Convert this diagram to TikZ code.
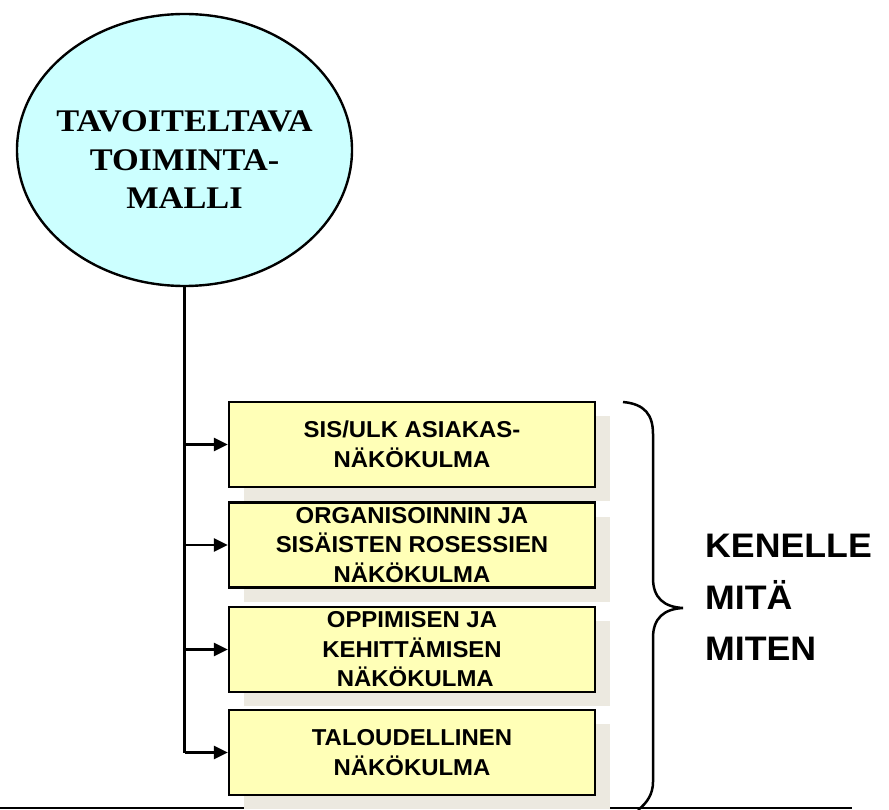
\documentclass[tikz,border=0pt]{standalone}
\usepackage{fontspec}
\setmainfont{Liberation Serif}
\newfontfamily\serifst[FakeStretch=1.09]{Liberation Serif}
\newfontfamily\sansst[FakeStretch=1.04]{Liberation Sans}
\newfontfamily\sanswide[FakeStretch=1.05]{Liberation Sans}
\usetikzlibrary{arrows.meta,shapes.geometric}
\definecolor{cyanfill}{HTML}{CCFFFF}
\definecolor{boxfill}{HTML}{FFFFB7}
\definecolor{shadowc}{HTML}{ECE9E0}
\tikzset{
  goal/.style={ellipse, draw=black, line width=2.4pt, fill=cyanfill, minimum width=335pt, minimum height=272pt, inner sep=0pt},
  goaltext/.style={align=center, font=\serifst\bfseries\fontsize{31.5}{38.5}\selectfont},
  viewbox/.style={rectangle, draw=black, line width=2.2pt, fill=boxfill, minimum width=366pt, minimum height=85pt, inner sep=0pt, align=center, font=\sansst\bfseries\fontsize{23}{29.5}\selectfont},
  shadowbox/.style={rectangle, fill=shadowc, minimum width=366pt, minimum height=85pt, inner sep=0pt},
  conn/.style={line width=2.5pt, draw=black},
  arr/.style={conn, -{Triangle[length=14pt,width=13pt]}},
  sidetext/.style={anchor=base west, inner sep=0pt, font=\sanswide\bfseries\fontsize{34}{52}\selectfont}
}
\begin{document}
\begin{tikzpicture}[x=1pt,y=-1pt]
\useasboundingbox (0,0) rectangle (889,810);
% bottom rule
\coordinate (rl) at (0,808);
\coordinate (rr) at (852,808);
\draw[conn] (rl) -- (rr);
% goal ellipse
\node[goal] (tm) at (184.5,150) {};
\node[goaltext] (tmt) at (184.5,160) {TAVOITELTAVA\\TOIMINTA-\\MALLI};
% shadows
\node[shadowbox] (s1) at (427,458.5) {};
\node[shadowbox] (s2) at (427,559) {};
\node[shadowbox] (s3) at (427,663.5) {};
\node[shadowbox] (s4) at (427,766.5) {};
% boxes
\node[viewbox] (b1) at (412,444.5) {SIS/ULK ASIAKAS-\\NÄKÖKULMA};
\node[viewbox] (b2) at (412,545) {ORGANISOINNIN JA\\SISÄISTEN ROSESSIEN\\NÄKÖKULMA};
\node[viewbox] (b3) at (412,649.5) {OPPIMISEN JA\\KEHITTÄMISEN\\\ NÄKÖKULMA};
\node[viewbox] (b4) at (412,752.5) {TALOUDELLINEN\\NÄKÖKULMA};
% connectors
\draw[conn] (tm.south) -- (tm.south |- b4.west);
\draw[arr] (tm.south |- b1.west) -- (b1.west);
\draw[arr] (tm.south |- b2.west) -- (b2.west);
\draw[arr] (tm.south |- b3.west) -- (b3.west);
\draw[arr] (tm.south |- b4.west) -- (b4.west);
% brace
\coordinate (bt) at (623,402);
\coordinate (bm) at (683,608);
\coordinate (bb) at (638,810);
\draw[conn] (bt) .. controls (645,404) and (653,415) .. (653,434) -- (653,578)
  .. controls (653,598) and (664,607) .. (bm)
  .. controls (664,609) and (653,618) .. (653,638) -- (653,782)
  .. controls (653,794) and (647,803) .. (bb);
% side text
\node[sidetext] (k1) at (705,557) {KENELLE};
\node[sidetext] (k2) at (705,609) {MITÄ};
\node[sidetext] (k3) at (705,660) {MITEN};
\end{tikzpicture}
\end{document}
